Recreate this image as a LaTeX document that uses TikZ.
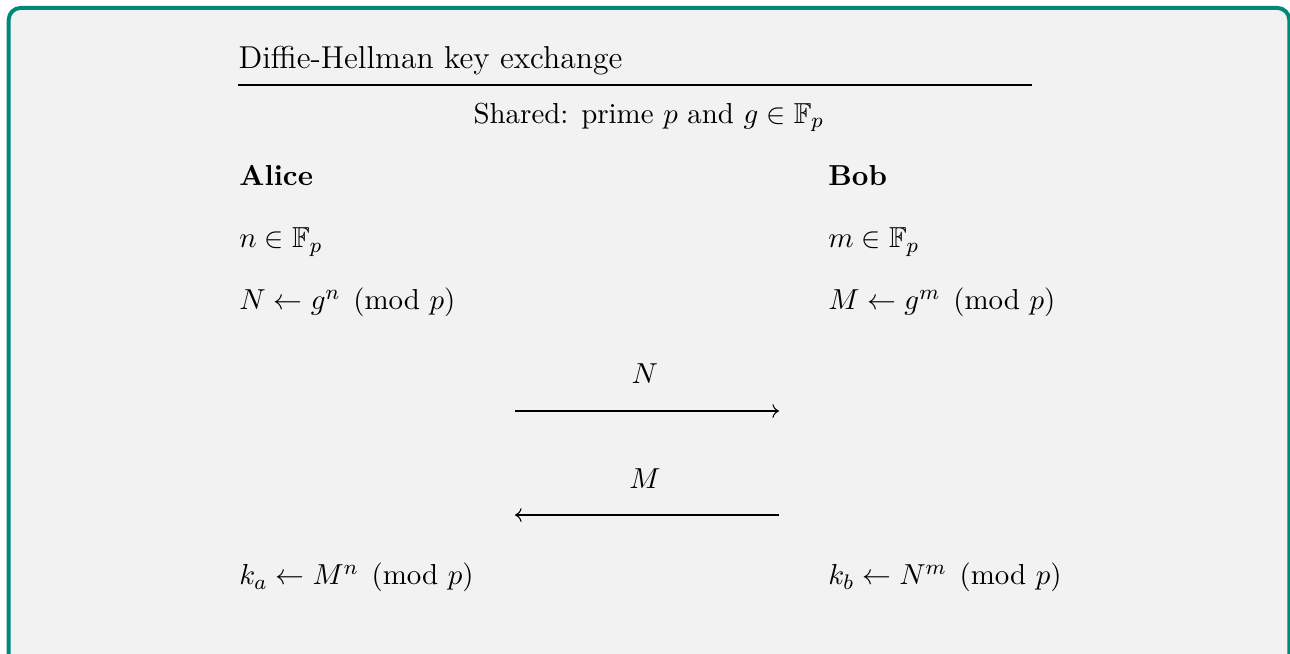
\documentclass[tikz,border=0pt,11pt]{standalone}
\usepackage{amsmath, amssymb}
\usetikzlibrary{positioning, arrows.meta}
\definecolor{dhTeal}{HTML}{00897B}
\definecolor{dhGrey}{HTML}{F2F2F2}

\tikzset{
  row/.style={anchor=base west, inner sep=0pt},
  msg/.style={-{To}, line width=0.4pt},
  msglabel/.style={anchor=base, inner sep=0pt}
}

\begin{document}
\begin{tikzpicture}
  \useasboundingbox (0,0) rectangle (488.7pt,-247.4pt);
  % frame
  \draw[dhTeal, line width=1.5pt, fill=dhGrey, rounded corners=4.5pt]
    (3.3pt,-3pt) rectangle (488.4pt,-290pt);

  % header
  \node[row, font=\large] (title) at (90.2pt,-26.1pt) {Diffie-Hellman key exchange};
  \coordinate (ruleL) at (90.2pt,-32.2pt);
  \coordinate (ruleR) at (390.9pt,-32.2pt);
  \draw[line width=0.45pt] (ruleL) -- (ruleR);
  \node[msglabel] (shared) at (245.8pt,-46.6pt) {Shared: prime $p$ and $g \in \mathbb{F}_p$};

  % parties
  \node[row, font=\bfseries] (alice) at (90.5pt,-70.1pt) {Alice};
  \node[row, font=\bfseries] (bob) at (313.6pt,-70.1pt) {Bob};
  \node[below=23.8pt of alice.base west, row] (aSecret) {$n \in \mathbb{F}_p$};
  \node[below=23.5pt of aSecret.base west, row] (aPublic) {$N \leftarrow g^n \pmod{p}$};
  \node[below=23.8pt of bob.base west, row] (bSecret) {$m \in \mathbb{F}_p$};
  \node[below=23.5pt of bSecret.base west, row] (bPublic) {$M \leftarrow g^m \pmod{p}$};

  % messages
  \coordinate (sendL) at (195.1pt,-155.7pt);
  \coordinate (sendR) at (295.1pt,-155.7pt);
  \coordinate (backL) at (195.1pt,-195.1pt);
  \coordinate (backR) at (295.1pt,-195.1pt);
  \draw[msg] (sendL) -- (sendR);
  \draw[msg] (backR) -- (backL);
  \node[msglabel] (sendLab) at (244.3pt,-145.1pt) {$N$};
  \node[msglabel] (backLab) at (244.3pt,-184.9pt) {$M$};

  % shared keys
  \node[below=104.2pt of aPublic.base west, row] (aKey) {$k_a \leftarrow M^n \pmod{p}$};
  \node[below=104.2pt of bPublic.base west, row] (bKey) {$k_b \leftarrow N^m \pmod{p}$};
\end{tikzpicture}
\end{document}
